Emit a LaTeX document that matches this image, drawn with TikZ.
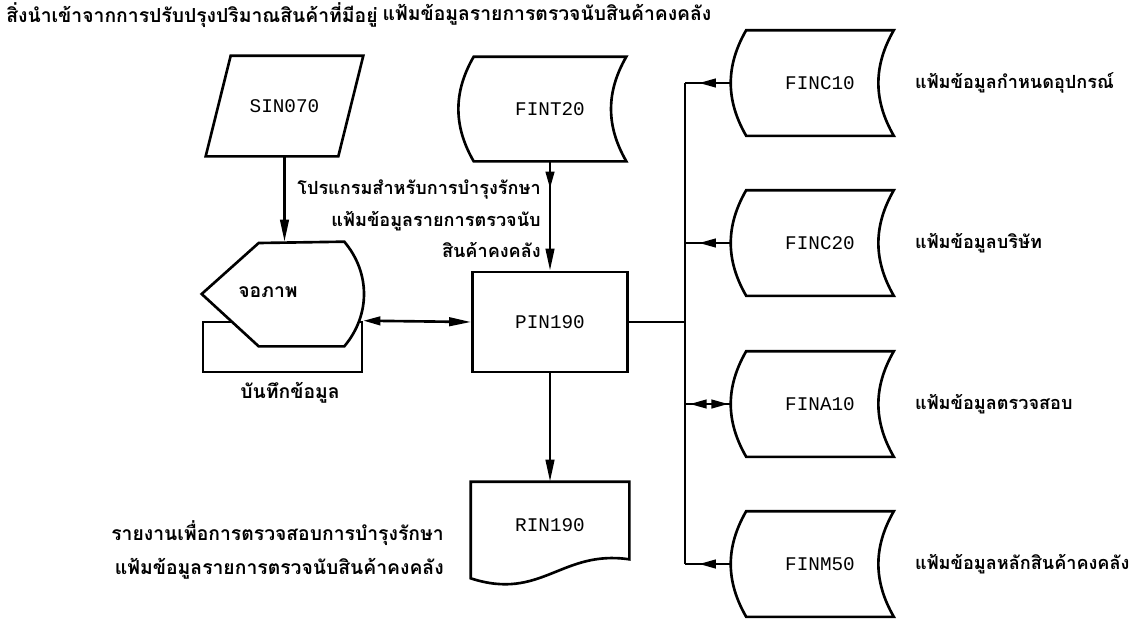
\documentclass[tikz,border=0pt]{standalone}
\usepackage{fontspec}
\setmonofont{Liberation Mono}
\newfontfamily\thai[Script=Thai]{Loma}
\usetikzlibrary{arrows.meta,decorations.markings,positioning,calc}

% outline of a stored-data symbol drawn round a node
\newcommand{\storedata}[1]{%
	\draw[outline] (#1.north west) -- (#1.north east)
	to[bend right=30] (#1.south east) -- (#1.south west)
	to[bend left=30] cycle;}

\begin{document}
\begin{tikzpicture}[line width=1.5pt,
	tipL/.tip={Triangle[length=4.4mm,width=1.7mm]},
	tipS/.tip={Triangle[length=3.4mm,width=1.7mm]},
	outline/.style={line width=1.5pt},
	flow/.style={-{tipL}},
	marktip/.style={postaction={decorate},
		decoration={markings, mark=at position #1 with {\arrow{tipS}}}},
	sym/.style={font=\ttfamily\fontsize{11}{13}\selectfont, inner sep=0pt},
	txt/.style={font=\thai\bfseries\fontsize{11}{19}\selectfont, inner sep=0pt},
	txtsm/.style={font=\thai\bfseries\fontsize{10.3}{18}\selectfont, inner sep=0pt}]
	
	\useasboundingbox (0,0) rectangle (22.9,-12.38);
	
	% ======================================================
	% Input, display and keyed data
	% ======================================================
	\node[txt, anchor=west] (sinlbl) at (0.1,-0.3)
	{สิ่งนำเข้าจากการปรับปรุงปริมาณสินค้าที่มีอยู่};
	
	\node[sym, minimum width=2.6cm, minimum height=1.96cm] (sin) at (5.69,-2.12) {SIN070};
	\draw[outline] ($(sin.north west)+(0.25,0)$) -- ($(sin.north east)+(0.25,0)$)
	-- ($(sin.south east)+(-0.25,0)$) -- ($(sin.south west)+(-0.25,0)$) -- cycle;
	
	% keyed data under the screen
	\node[draw, outline, minimum width=3.18cm, minimum height=1.0cm, inner sep=0pt] (keep) at (5.65,-6.94) {};
	\node[txt] (keeplbl) at (5.8,-7.86) {บันทึกข้อมูล};
	
	% screen
	\node[minimum width=2.8cm, minimum height=2.04cm, inner sep=0pt] (disp) at (5.46,-5.88) {};
	\draw[outline, fill=white] (disp.west) -- ++(1.14,1.02) -- (disp.north east)
	to[bend left=40] (disp.south east) -- ($(disp.south west)+(1.14,0)$) -- cycle;
	\node[txt] (disptxt) at ($(disp)+(-0.1,0.04)$) {จอภาพ};
	
	% ======================================================
	% Program and its count file
	% ======================================================
	\node[sym, draw, minimum width=3.1cm, minimum height=2.0cm] (pin) at (11.0,-6.44) {PIN190};
	
	\node[sym, minimum width=3.0cm, minimum height=2.04cm] (fint) at (11.0,-2.18) {FINT20};
	\storedata{fint}
	\node[txt] (fintlbl) at (10.94,-0.3) {แฟ้มข้อมูลรายการตรวจนับสินค้าคงคลัง};
	
	\node[txtsm, align=right, anchor=east] (maint) at (10.84,-4.38)
	{โปรแกรมสำหรับการบำรุงรักษา\\แฟ้มข้อมูลรายการตรวจนับ\\สินค้าคงคลัง};
	
	\draw[flow] (sin.south) -- (sin.south |- disp.north);
	\draw[flow, marktip=0.25] (fint.south) -- (pin.north);
	\draw[{tipS}-{tipL}] (keep.north east) -- (pin.west);
	
	% ======================================================
	% Report
	% ======================================================
	\node[sym, minimum width=3.12cm, minimum height=1.68cm] (rin) at (11.0,-10.5) {RIN190};
	\draw[outline] ($(rin.south west)+(0,-0.2)$) -- (rin.north west) -- (rin.north east)
	-- ($(rin.south east)+(0,0.18)$)
	.. controls ($(rin.south east)+(-1.36,0.38)$) and ($(rin.south east)+(-1.76,-0.66)$)
	.. ($(rin.south west)+(0,-0.2)$) -- cycle;
	\draw[flow] (pin.south) -- (rin.north);
	
	\node[txt, align=right, anchor=east] (rpt) at (8.9,-11.0)
	{รายงานเพื่อการตรวจสอบการบำรุงรักษา\\แฟ้มข้อมูลรายการตรวจนับสินค้าคงคลัง};
	
	% ======================================================
	% Files on the right, on one bus
	% ======================================================
	\coordinate (bus) at (13.7,-6.44);
	\foreach \nm/\code/\yy/\lbl in {finc10/FINC10/-1.66/แฟ้มข้อมูลกำหนดอุปกรณ์,
		finc20/FINC20/-4.86/แฟ้มข้อมูลบริษัท,
		fina10/FINA10/-8.08/แฟ้มข้อมูลตรวจสอบ,
		finm50/FINM50/-11.28/แฟ้มข้อมูลหลักสินค้าคงคลัง}{
		\node[sym, minimum width=2.9cm, minimum height=2.06cm] (\nm) at (16.4,\yy) {\code};
		\storedata{\nm}
		\node[txtsm, right=0.4cm of \nm] (\nm-lbl) {\lbl};
	}
	
	\draw (pin.east) -- (bus);
	\draw (finc10.west -| bus) -- (finm50.west -| bus);
	\draw[marktip=0.7] ($(finc10.west)+(-0.3,0)$) -- (finc10.west -| bus);
	\draw[marktip=0.7] ($(finc20.west)+(-0.3,0)$) -- (finc20.west -| bus);
	\draw[marktip=0.7] ($(finm50.west)+(-0.3,0)$) -- (finm50.west -| bus);
	% audit file is read and written
	\draw[postaction={decorate}, decoration={markings,
		mark=at position 0.06 with {\arrowreversed{tipS}},
		mark=at position 0.9 with {\arrow{tipS}}}]
	($(fina10.west)+(-0.3,0)$) -- (fina10.west -| bus);
	
\end{tikzpicture}
\end{document}
